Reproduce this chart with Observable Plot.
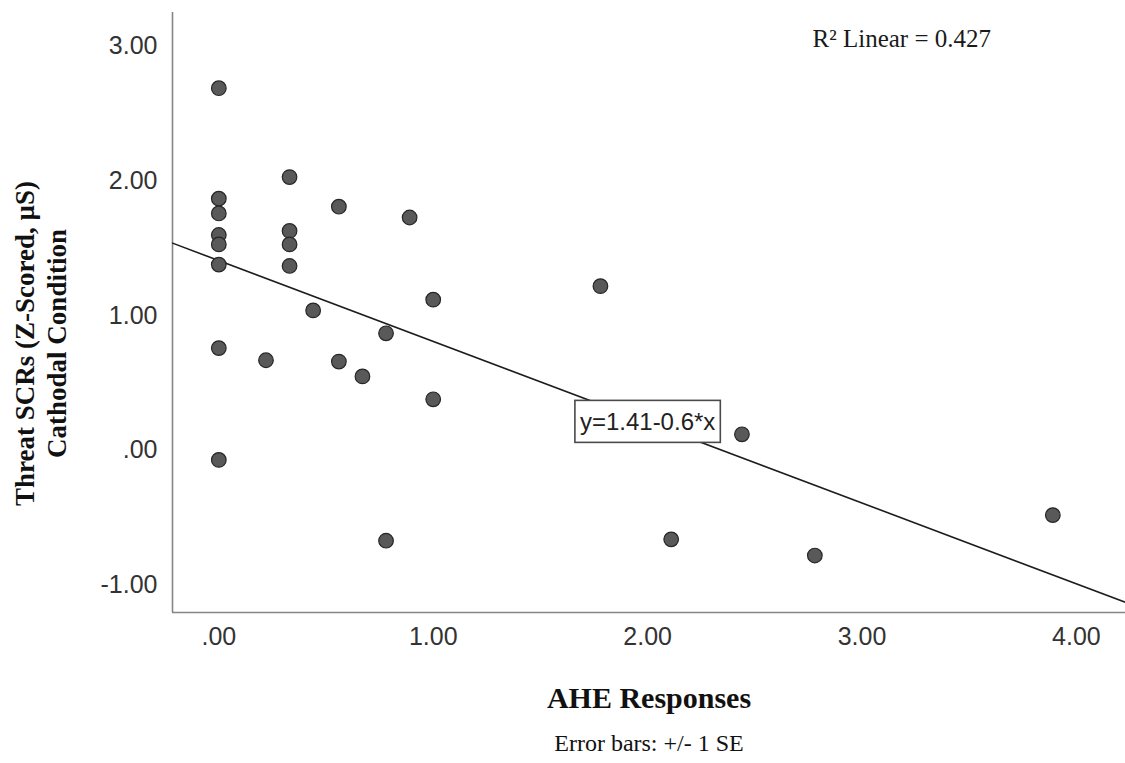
<!DOCTYPE html>
<html>
<head>
<meta charset="utf-8">
<script src="https://cdn.jsdelivr.net/npm/d3@7"></script>
<script src="https://cdn.jsdelivr.net/npm/@observablehq/plot@0.6"></script>
<style>
  html, body { margin: 0; padding: 0; background: #fff; }
  #chart svg { display: block; background: #fff; }
</style>
</head>
<body>
<div id="chart"></div>
<script>
// ---- Data ----
const xValues = [0, 0, 0, 0, 0, 0, 0, 0,
                 0.22, 0.33, 0.33, 0.33, 0.33, 0.44, 0.56, 0.56, 0.67,
                 0.78, 0.78, 0.89, 1.00, 1.00, 1.78, 2.11, 2.44, 2.78, 3.89];
const yValues = [2.69, 1.87, 1.76, 1.60, 1.53, 1.38, 0.76, -0.07,
                 0.67, 2.03, 1.63, 1.53, 1.37, 1.04, 1.81, 0.66, 0.55,
                 0.87, -0.67, 1.73, 1.12, 0.38, 1.22, -0.66, 0.12, -0.78, -0.48];

const xTicks = [0, 1, 2, 3, 4];
const xTickLabels = [".00", "1.00", "2.00", "3.00", "4.00"];
const yTicks = [-1, 0, 1, 2, 3];
const yTickLabels = ["-1.00", ".00", "1.00", "2.00", "3.00"];

const fitIntercept = 1.41;
const fitSlope = -0.6;
const r2Label = "R\u00B2 Linear = 0.427";
const equationLabel = "y=1.41-0.6*x";
const equationAtX = [2];

const xTitle = "AHE Responses";
const yTitle = "Threat SCRs (Z-Scored, \u00B5S)\nCathodal Condition";
const caption = "Error bars: +/- 1 SE";

const xDomain = [-0.216, 4.229];
const yDomain = [-1.203, 3.252];

// ---- Derived tables ----
const points = xValues.map((x, i) => ({x, y: yValues[i]}));
const fitLine = xDomain.map(x => ({x, y: fitIntercept + fitSlope * x}));
const eqPos = equationAtX.map(x => ({x, y: fitIntercept + fitSlope * x, t: equationLabel}));

const serif = "'Liberation Serif', 'Times New Roman', serif";
const sans = "'Liberation Sans', Arial, sans-serif";

const plot = Plot.plot({
  width: 1125,
  height: 763,
  marginLeft: 172,
  marginRight: 0,
  marginTop: 12,
  marginBottom: 151,
  x: {domain: xDomain},
  y: {domain: yDomain},
  marks: [
    Plot.axisX({
      ticks: xTicks,
      tickFormat: d => xTickLabels[xTicks.indexOf(d)],
      tickSize: 0, tickPadding: 15,
      fontSize: 25, fontFamily: sans, color: "#333", label: null
    }),
    Plot.axisY({
      ticks: yTicks,
      tickFormat: d => yTickLabels[yTicks.indexOf(d)],
      tickSize: 0, tickPadding: 15,
      fontSize: 25, fontFamily: sans, color: "#333", label: null
    }),
    Plot.ruleX([xDomain[0]], {stroke: "#858585", strokeWidth: 1.6}),
    Plot.ruleY([yDomain[0]], {stroke: "#858585", strokeWidth: 1.6}),
    Plot.line(fitLine, {x: "x", y: "y", stroke: "#1c1c1c", strokeWidth: 1.6, clip: true}),
    Plot.dot(points, {x: "x", y: "y", r: 7.3, fill: "#595959", stroke: "#262626", strokeWidth: 1.2}),
    Plot.text(eqPos, {
      x: "x", y: "y", text: "t",
      fontFamily: sans, fontSize: 24, fill: "#222", textAnchor: "middle", lineAnchor: "middle"
    }),
    Plot.text([r2Label], {
      text: d => d, frameAnchor: "top-left", textAnchor: "start", lineAnchor: "middle",
      dx: 640, dy: 26.5, fontFamily: serif, fontSize: 25, fill: "#1a1a1a"
    }),
    Plot.text([xTitle], {
      text: d => d, frameAnchor: "bottom", textAnchor: "middle", lineAnchor: "middle",
      dy: 85.4, fontFamily: serif, fontSize: 30, fontWeight: "bold", fill: "#111"
    }),
    Plot.text([caption], {
      text: d => d, frameAnchor: "bottom", textAnchor: "middle", lineAnchor: "middle",
      dy: 131.3, fontFamily: serif, fontSize: 24, fill: "#111"
    }),
    Plot.text([yTitle], {
      text: d => d, frameAnchor: "left", textAnchor: "middle", lineAnchor: "middle",
      rotate: -90, lineHeight: 1.19, dx: -133, dy: 31,
      fontFamily: serif, fontSize: 27, fontWeight: "bold", fill: "#111"
    })
  ]
});

document.getElementById("chart").appendChild(plot);

// white box with border behind the equation label
d3.select(plot).selectAll("text")
  .filter(function() { return this.textContent === equationLabel; })
  .each(function() {
    const bb = this.getBBox();
    const padX = 5, padY = 7.5;
    d3.select(this.parentNode).insert("rect", () => this)
      .attr("transform", this.getAttribute("transform"))
      .attr("x", bb.x - padX)
      .attr("y", bb.y - padY)
      .attr("width", bb.width + 2 * padX)
      .attr("height", bb.height + 2 * padY)
      .attr("fill", "#fff")
      .attr("stroke", "#4a4a4a")
      .attr("stroke-width", 1.6);
  });
</script>
</body>
</html>
